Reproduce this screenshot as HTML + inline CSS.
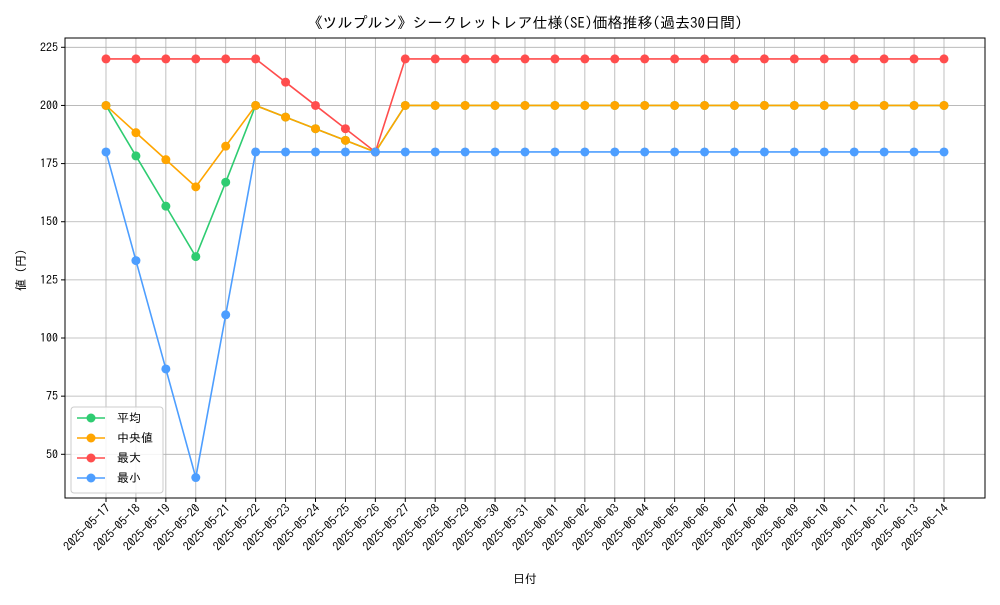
<!DOCTYPE html>
<html><head><meta charset="utf-8"><style>
body{margin:0;background:#fff;}
svg text{font-family:"IPAGothic","Noto Sans CJK JP",sans-serif;fill:#000;}
</style></head><body>
<svg id="chart" width="1000" height="600" xmlns="http://www.w3.org/2000/svg">
<text x="525" y="28" font-size="15" text-anchor="middle">《ツルプルン》シークレットレア仕様(SE)価格推移(過去30日間)</text>
<g id="grid"></g><g id="axes"></g><g id="series"></g>
<text x="525" y="583" font-size="12" text-anchor="middle">日付</text>
<text transform="translate(25,270) rotate(-90)" font-size="12" text-anchor="middle">値 (円)</text>
<g id="legend"></g>
</svg>
<script>
const dates=["2025-05-17","2025-05-18","2025-05-19","2025-05-20","2025-05-21","2025-05-22","2025-05-23","2025-05-24","2025-05-25","2025-05-26","2025-05-27","2025-05-28","2025-05-29","2025-05-30","2025-05-31","2025-06-01","2025-06-02","2025-06-03","2025-06-04","2025-06-05","2025-06-06","2025-06-07","2025-06-08","2025-06-09","2025-06-10","2025-06-11","2025-06-12","2025-06-13","2025-06-14"];
const avgValues=[200,178.3,156.7,135,167,200,195,190,185,180,200,200,200,200,200,200,200,200,200,200,200,200,200,200,200,200,200,200,200];
const medianValues=[200,188.3,176.7,165,182.5,200,195,190,185,180,200,200,200,200,200,200,200,200,200,200,200,200,200,200,200,200,200,200,200];
const maxValues=[220,220,220,220,220,220,210,200,190,180,220,220,220,220,220,220,220,220,220,220,220,220,220,220,220,220,220,220,220];
const minValues=[180,133.3,86.7,40,110,180,180,180,180,180,180,180,180,180,180,180,180,180,180,180,180,180,180,180,180,180,180,180,180];
const yTicks=[50,75,100,125,150,175,200,225];
const seriesNames=["平均","中央値","最大","最小"];
const seriesColors=["#2ecc71","#ffa500","#ff4d4d","#4d9eff"];
const L=65,R=985,T=38,B=498;
const xs=i=>106+i*(944-106)/(dates.length-1);
const ys=v=>454.3-(v-50)*(454.3-47.3)/175;
const NS="http://www.w3.org/2000/svg";
function mk(tag,attrs,parent){const e=document.createElementNS(NS,tag);for(const k in attrs)e.setAttribute(k,attrs[k]);parent.appendChild(e);return e;}
const grid=document.getElementById('grid'),axes=document.getElementById('axes'),ser=document.getElementById('series'),leg=document.getElementById('legend');
dates.forEach((d,i)=>{
 const x=xs(i);
 const g=mk('line',{x1:x,x2:x,y1:T,y2:B,stroke:'#b0b0b0','stroke-width':0.8},grid);
 
 const t=mk('line',{x1:x,x2:x,y1:B,y2:B+4,stroke:'#000'},axes);
 
 const tx=mk('text',{'font-size':12,'text-anchor':'end',transform:`translate(${x+5},${B+11}) rotate(-45)`},axes);
 tx.textContent=d;
 
});
yTicks.forEach(v=>{
 const y=ys(v);
 const g=mk('line',{x1:L,x2:R,y1:y,y2:y,stroke:'#b0b0b0','stroke-width':0.8},grid);
 
 const t=mk('line',{x1:L-4,x2:L,y1:y,y2:y,stroke:'#000'},axes);
 
 const tx=mk('text',{x:L-7,y:y+4,'font-size':12,'text-anchor':'end'},axes);
 tx.textContent=v;
 
});
const frame=mk('rect',{x:L,y:T,width:R-L,height:B-T,fill:'none',stroke:'#000','stroke-width':1},axes);

[avgValues,medianValues,maxValues,minValues].forEach((vals,si)=>{
 const g=mk('g',{},ser);
 
 const p=mk('polyline',{points:vals.map((v,i)=>xs(i)+','+ys(v)).join(' '),fill:'none',stroke:seriesColors[si],'stroke-width':1.6},g);
 
 vals.forEach((v,i)=>{
  const c=mk('circle',{cx:xs(i),cy:ys(v),r:4.5,fill:seriesColors[si]},g);
  
 });
});
const box=mk('rect',{x:71,y:407,width:92,height:86,rx:3,fill:'#fff','fill-opacity':0.85,stroke:'#ccc'},leg);

seriesNames.forEach((n,i)=>{
 const y=418+i*20;
 const g=mk('g',{},leg);
 
 mk('line',{x1:77,x2:105,y1:y,y2:y,stroke:seriesColors[i],'stroke-width':1.6},g);
 mk('circle',{cx:91,cy:y,r:4.5,fill:seriesColors[i]},g);
 const t=mk('text',{x:117,y:y+4,'font-size':12},g);t.textContent=n;
});
</script>
</body></html>
